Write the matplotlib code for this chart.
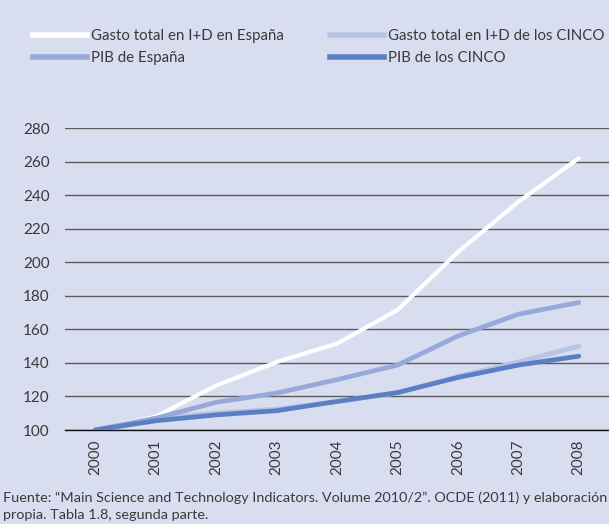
import matplotlib
matplotlib.use("Agg")
import matplotlib.pyplot as plt
from matplotlib.lines import Line2D

years = ["2000", "2001", "2002", "2003", "2004", "2005", "2006", "2007", "2008"]
gasto_espana = [100, 108, 126.5, 140.5, 151.5, 171.5, 206, 236, 262]
gasto_cinco = [100, 107, 110, 112.5, 117, 122, 132, 140.5, 150]
pib_espana = [100, 107, 116.5, 122, 130, 138.7, 156, 169, 176]
pib_cinco = [100, 105.5, 109, 111.5, 117, 122.3, 131.3, 138.7, 144]
labels = ["Gasto total en I+D en España", "Gasto total en I+D de los CINCO",
          "PIB de España", "PIB de los CINCO"]
yticks = [100, 120, 140, 160, 180, 200, 220, 240, 260, 280]

BG = "#d9ddf0"
C_WHITE = "#ffffff"
C_LIGHT = "#b8c4e6"
C_MED = "#97a9d9"
C_DARK = "#5b7fc3"
TXT = "#3a3a3a"

plt.rcParams['font.family'] = ['Lato', 'DejaVu Sans']

fig = plt.figure(figsize=(6.09, 5.24), dpi=100, facecolor=BG)
ax = fig.add_axes([65/609, 1-430/524, 1-65/609, (430-128)/524])
ax.set_facecolor(BG)

x = list(range(len(years)))
lw = 3.4
ax.plot(x, gasto_espana, color=C_WHITE, lw=3.0, solid_capstyle='round', zorder=3)
ax.plot(x, gasto_cinco, color=C_LIGHT, lw=lw, solid_capstyle='round', zorder=4)
ax.plot(x, pib_espana, color=C_MED, lw=lw, solid_capstyle='round', zorder=5)
ax.plot(x, pib_cinco, color=C_DARK, lw=lw, solid_capstyle='round', zorder=6)

ax.set_xlim(-0.5, 8.5)
ax.set_ylim(100, 280)
ax.set_yticks(yticks)
ax.set_xticks(x)
ax.set_xticklabels(years, rotation=90)
ax.grid(axis='y', color='#5a5a5a', lw=1.0, zorder=1)
for s in ['top', 'right', 'left']:
    ax.spines[s].set_visible(False)
ax.spines['bottom'].set_color('#111111')
ax.spines['bottom'].set_linewidth(1.0)
ax.spines['bottom'].set_zorder(2)
ax.tick_params(axis='both', length=0, labelsize=11, colors=TXT)
ax.tick_params(axis='y', pad=11)
ax.tick_params(axis='x', pad=7)

colors = [C_WHITE, C_LIGHT, C_MED, C_DARK]
order = [0, 2, 1, 3]
handles = [Line2D([], [], color=colors[i], lw=4) for i in order]
leg_labels = [labels[i] for i in order]
leg = fig.legend(handles, leg_labels, loc='upper left', bbox_to_anchor=(33/609, 1-29/524),
                 ncol=2, frameon=False, fontsize=10.8, handlelength=3.6, handletextpad=0.25,
                 columnspacing=3.1, labelspacing=0.55, borderaxespad=0, borderpad=0)
for t in leg.get_texts():
    t.set_color(TXT)

fig.text(3/609, 1-498/524, "Fuente: “Main Science and Technology Indicators. Volume 2010/2”. OCDE (2011) y elaboración",
         fontsize=10.35, color=TXT, va='center', ha='left')
fig.text(3/609, 1-515/524, "propia. Tabla 1.8, segunda parte.",
         fontsize=10.35, color=TXT, va='center', ha='left')

fig.savefig("out.png", dpi=100, facecolor=BG)
